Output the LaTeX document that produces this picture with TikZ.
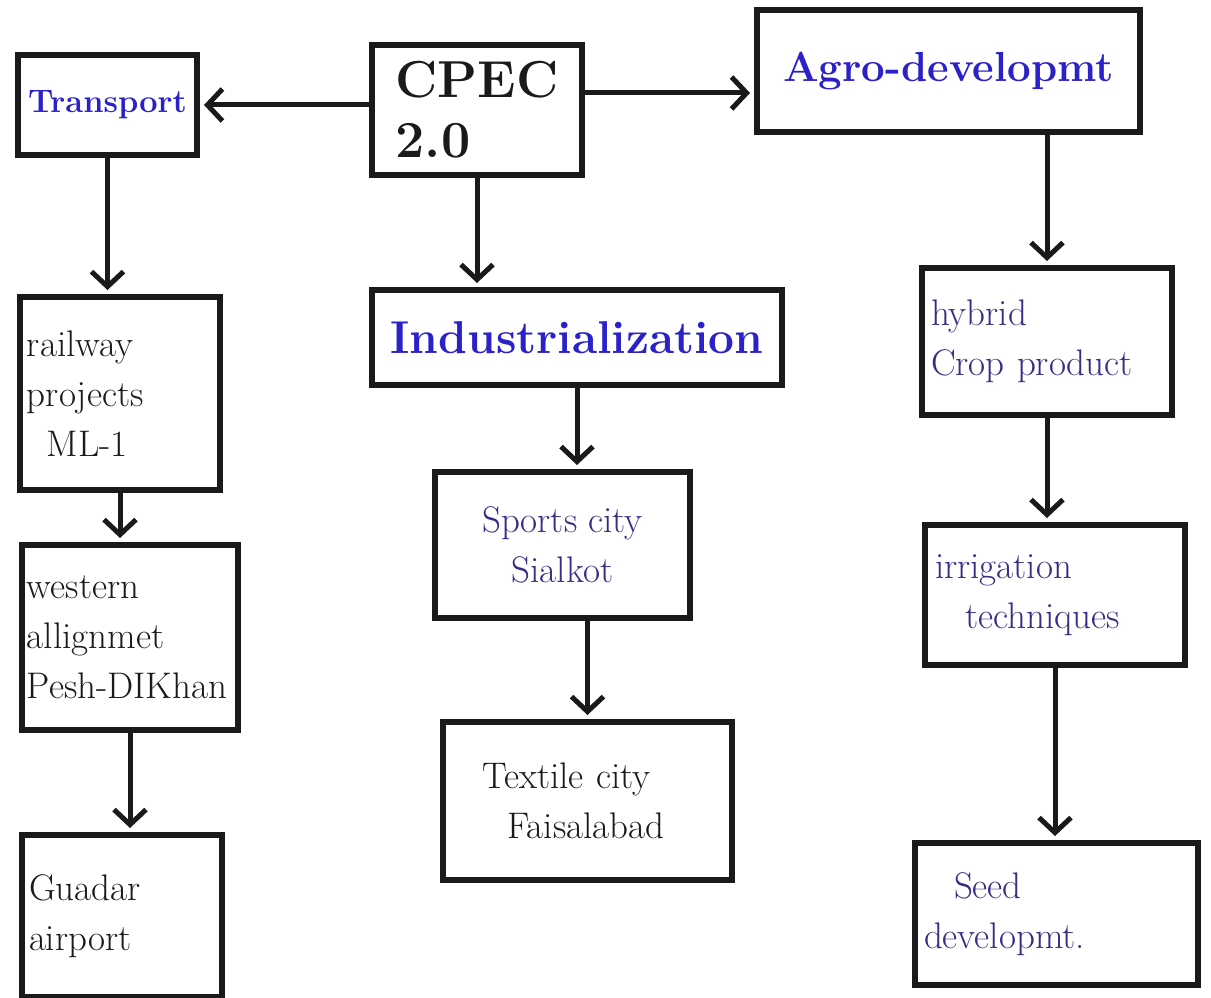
\documentclass[tikz,border=0pt]{standalone}
\usetikzlibrary{arrows.meta}
\definecolor{inkblue}{HTML}{2A22C8}
\definecolor{inkpurple}{HTML}{3B2A86}
\definecolor{inkblack}{HTML}{1A1A1A}
\begin{document}
\begin{tikzpicture}[x=1pt,y=-1pt,
  box/.style={draw=inkblack, line width=6pt, rectangle, inner sep=4pt},
  txt/.style={font=\fontsize{37}{50}\selectfont},
  conn/.style={draw=inkblack, line width=5pt, shorten >=4pt,
    -{Straight Barb[length=15pt,width=32pt,line width=5pt]}}]
\useasboundingbox (0,0) rectangle (1211,998);
\fill[white] (0,0) rectangle (1211,998);

% top row
\node[box, minimum width=179pt, minimum height=100pt, text=inkblue, font=\bfseries\fontsize{35}{44}\selectfont] (transport) at (107.5,105) {\scalebox{0.93}{Transport}};
\node[box, minimum width=210pt, minimum height=130pt, text=inkblack, align=left, font=\bfseries\fontsize{52}{60}\selectfont] (cpec) at (477,110) {CPEC\\2.0};
\node[box, minimum width=383pt, minimum height=122pt, text=inkblue, font=\bfseries\fontsize{42}{50}\selectfont] (agro) at (948.5,71) {Agro-developmt};

% second row
\node[box, minimum width=200pt, minimum height=193pt, text=inkblack, txt, align=left, text width=186pt] (railway) at (120,393.5) {railway\\projects\\\hspace*{20pt}ML-1};
\node[box, minimum width=410pt, minimum height=95pt, text=inkblue, font=\bfseries\fontsize{46}{52}\selectfont] (industry) at (577,337.5) {Industrialization};
\node[box, minimum width=250pt, minimum height=147pt, text=inkpurple, txt, align=left, text width=232pt] (hybrid) at (1047,341.5) {hybrid\\Crop product};

% third row
\node[box, minimum width=216pt, minimum height=185pt, text=inkblack, txt, align=left, text width=206pt] (western) at (130,637.5) {western\\allignmet\\Pesh-DIKhan};
\node[box, minimum width=255pt, minimum height=146pt, text=inkpurple, txt, align=center] (sports) at (562.5,545) {Sports city\\Sialkot};
\node[box, minimum width=260pt, minimum height=140pt, text=inkpurple, txt, align=left, text width=240pt] (irrigation) at (1055,595) {irrigation\\\hspace*{30pt}techniques};

% bottom row
\node[box, minimum width=200pt, minimum height=162pt, text=inkblack, txt, align=left, text width=186pt] (guadar) at (122,916) {Guadar\\airport};
\node[box, minimum width=289pt, minimum height=158pt, text=inkblack, txt, align=left, text width=270pt] (textile) at (587.5,801) {\hspace*{30pt}Textile city\\\hspace*{55pt}Faisalabad};
\node[box, minimum width=283pt, minimum height=142pt, text=inkpurple, txt, align=left, text width=265pt] (seed) at (1056.5,914) {\hspace*{30pt}Seed\\developmt.};

% connectors
\draw[conn] (cpec.west |- transport.east) -- (transport.east);
\draw[conn] ([yshift=17pt]cpec.east) -- ([yshift=17pt]cpec.east -| agro.west);
\draw[conn] (cpec.south) -- (cpec.south |- industry.north);
\draw[conn] (transport.south) -- (transport.south |- railway.north);
\draw[conn] (hybrid.north |- agro.south) -- (hybrid.north);
\draw[conn] (railway.south) -- (railway.south |- western.north);
\draw[conn] (western.south) -- (western.south |- guadar.north);
\draw[conn] (industry.south) -- (industry.south |- sports.north);
\draw[conn] (textile.north |- sports.south) -- (textile.north);
\draw[conn] (hybrid.south) -- (hybrid.south |- irrigation.north);
\draw[conn] (irrigation.south) -- (irrigation.south |- seed.north);
\end{tikzpicture}
\end{document}
